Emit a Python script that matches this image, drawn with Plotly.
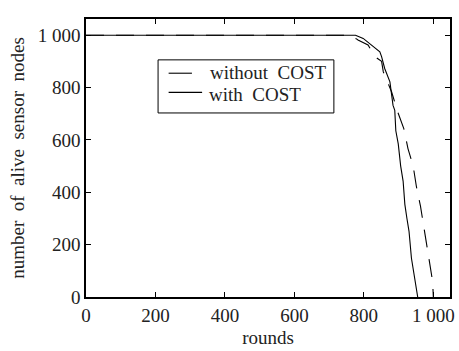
import plotly.graph_objects as go

# Data
rounds_with = [0, 776, 798, 817, 846, 851, 860, 875, 884, 889, 892, 899, 906, 913, 918, 924, 930, 937, 947, 955]
alive_with = [1000, 1000, 988, 969, 937, 918, 873, 822, 732, 713, 635, 585, 500, 443, 354, 300, 251, 148, 59, 0]

rounds_without = [0, 745, 779, 783, 812, 832, 851, 856, 880, 898, 915, 927, 942, 951, 963, 971, 980, 990, 998, 1000]
alive_without = [1000, 1000, 986, 982, 963, 918, 900, 860, 783, 705, 643, 567, 500, 424, 347, 283, 206, 129, 59, 0]

x_tickvals = [0, 200, 400, 600, 800, 1000]
x_ticktext = ["0", "200", "400", "600", "800", "1 000"]
y_tickvals = [0, 200, 400, 600, 800, 1000]
y_ticktext = ["0", "200", "400", "600", "800", "1 000"]

FONT = "Liberation Serif"
NB = "\u00a0"
TXT = "#222"
label_without = "without" + NB * 2 + "COST"
label_with = "with" + NB * 2 + "COST"

fig = go.Figure()
fig.add_trace(go.Scatter(
    x=rounds_without, y=alive_without, mode="lines", name=label_without,
    line=dict(color="black", width=1.1, dash="18px,12px"), showlegend=False,
))
fig.add_trace(go.Scatter(
    x=rounds_with, y=alive_with, mode="lines", name=label_with,
    line=dict(color="black", width=1.1), showlegend=False,
))

axis_common = dict(
    showline=True, linecolor="black", linewidth=1.5, mirror="allticks",
    ticks="inside", ticklen=5, tickcolor="black", tickwidth=1,
    showgrid=False, zeroline=False,
    tickfont=dict(family=FONT, size=19, color=TXT),
)

# Hand-drawn legend box (paper coordinates)
shapes = [
    dict(type="rect", xref="paper", yref="paper", x0=0.198, x1=0.681, y0=0.662, y1=0.853,
         line=dict(color="black", width=1), fillcolor="white", layer="above"),
    dict(type="line", xref="paper", yref="paper", x0=0.227, x1=0.291, y0=0.805, y1=0.805,
         line=dict(color="black", width=1.1), layer="above"),
    dict(type="line", xref="paper", yref="paper", x0=0.227, x1=0.319, y0=0.736, y1=0.736,
         line=dict(color="black", width=1.1), layer="above"),
]
annotations = [
    dict(xref="paper", yref="paper", x=0.335, y=0.809, xanchor="left", yanchor="middle",
         text=label_without, showarrow=False, font=dict(family=FONT, size=19, color=TXT)),
    dict(xref="paper", yref="paper", x=0.332, y=0.727, xanchor="left", yanchor="middle",
         text=label_with, showarrow=False, font=dict(family=FONT, size=19, color=TXT)),
]

fig.update_layout(
    width=459, height=351,
    margin=dict(l=86, r=9, t=19, b=54, autoexpand=False),
    paper_bgcolor="white", plot_bgcolor="white",
    font=dict(family=FONT, color=TXT),
    showlegend=False,
    shapes=shapes, annotations=annotations,
    xaxis=dict(
        range=[0, 1048], tickvals=x_tickvals, ticktext=x_ticktext,
        title=dict(text="rounds", font=dict(family=FONT, size=19, color=TXT), standoff=6),
        **axis_common,
    ),
    yaxis=dict(
        range=[0, 1062], tickvals=y_tickvals, ticktext=y_ticktext,
        title=dict(text=("number" + NB * 2 + "of" + NB * 2 + "alive" + NB * 2 + "sensor" + NB * 2 + "nodes"),
                   font=dict(family=FONT, size=19, color=TXT), standoff=8),
        **axis_common,
    ),
)

fig.write_html("out.html")
